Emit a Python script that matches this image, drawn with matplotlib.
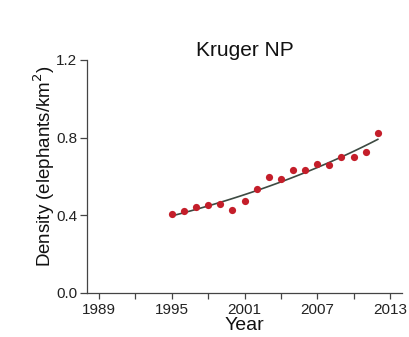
import numpy as np
import matplotlib.pyplot as plt
from matplotlib.ticker import MultipleLocator

# Annual elephant density estimates, Kruger National Park
years = [1995, 1996, 1997, 1998, 1999, 2000, 2001, 2002, 2003,
         2004, 2005, 2006, 2007, 2008, 2009, 2010, 2011, 2012]
density = [0.406, 0.423, 0.441, 0.451, 0.458, 0.425, 0.473, 0.533, 0.595,
           0.585, 0.634, 0.631, 0.663, 0.658, 0.698, 0.699, 0.727, 0.826]

year_ticks = [1989, 1995, 2001, 2007, 2013]
density_ticks = [0.0, 0.4, 0.8, 1.2]

plt.rcParams['font.family'] = ['Liberation Sans', 'DejaVu Sans']

fig = plt.figure(figsize=(4.09, 3.37), dpi=100)
ax = fig.add_axes([0.2127, 0.1306, 0.7703, 0.6914])

# exponential growth fit through the annual estimates
yr = np.array(years, dtype=float)
rate, logn0 = np.polyfit(yr - yr[0], np.log(density), 1)
fit_x = np.linspace(yr[0], yr[-1], 100)
fit_y = np.exp(logn0 + rate * (fit_x - yr[0]))

ax.plot(fit_x, fit_y, color='#3d4a42', lw=1.2, zorder=2)
ax.plot(years, density, 'o', color='#c41e2a', ms=5.2, mec='none', zorder=3)

ax.set_xlim(1988, 2014)
ax.set_ylim(0.0, 1.2)
ax.set_xticks(year_ticks)
ax.xaxis.set_minor_locator(MultipleLocator(3))
ax.set_yticks(density_ticks)
ax.set_yticklabels(['%.1f' % v for v in density_ticks])

for side in ('top', 'right'):
    ax.spines[side].set_visible(False)
for side in ('left', 'bottom'):
    ax.spines[side].set_color('#444444')
    ax.spines[side].set_linewidth(0.9)

ax.tick_params(axis='both', which='both', direction='out',
               width=0.9, color='#444444', labelsize=11, labelcolor='#222222')
ax.tick_params(axis='y', length=5, pad=2)
ax.tick_params(axis='x', which='both', length=4, pad=3)

ax.set_title('Kruger NP', fontsize=15, color='#111111', pad=3)
ax.set_xlabel('Year', fontsize=14, color='#111111', labelpad=0)
ax.set_ylabel('Density (elephants/km$^2$)', fontsize=13.5, color='#111111')
ax.yaxis.set_label_coords(-0.096, 0.545)

fig.savefig('out.png', dpi=100, facecolor='white')
